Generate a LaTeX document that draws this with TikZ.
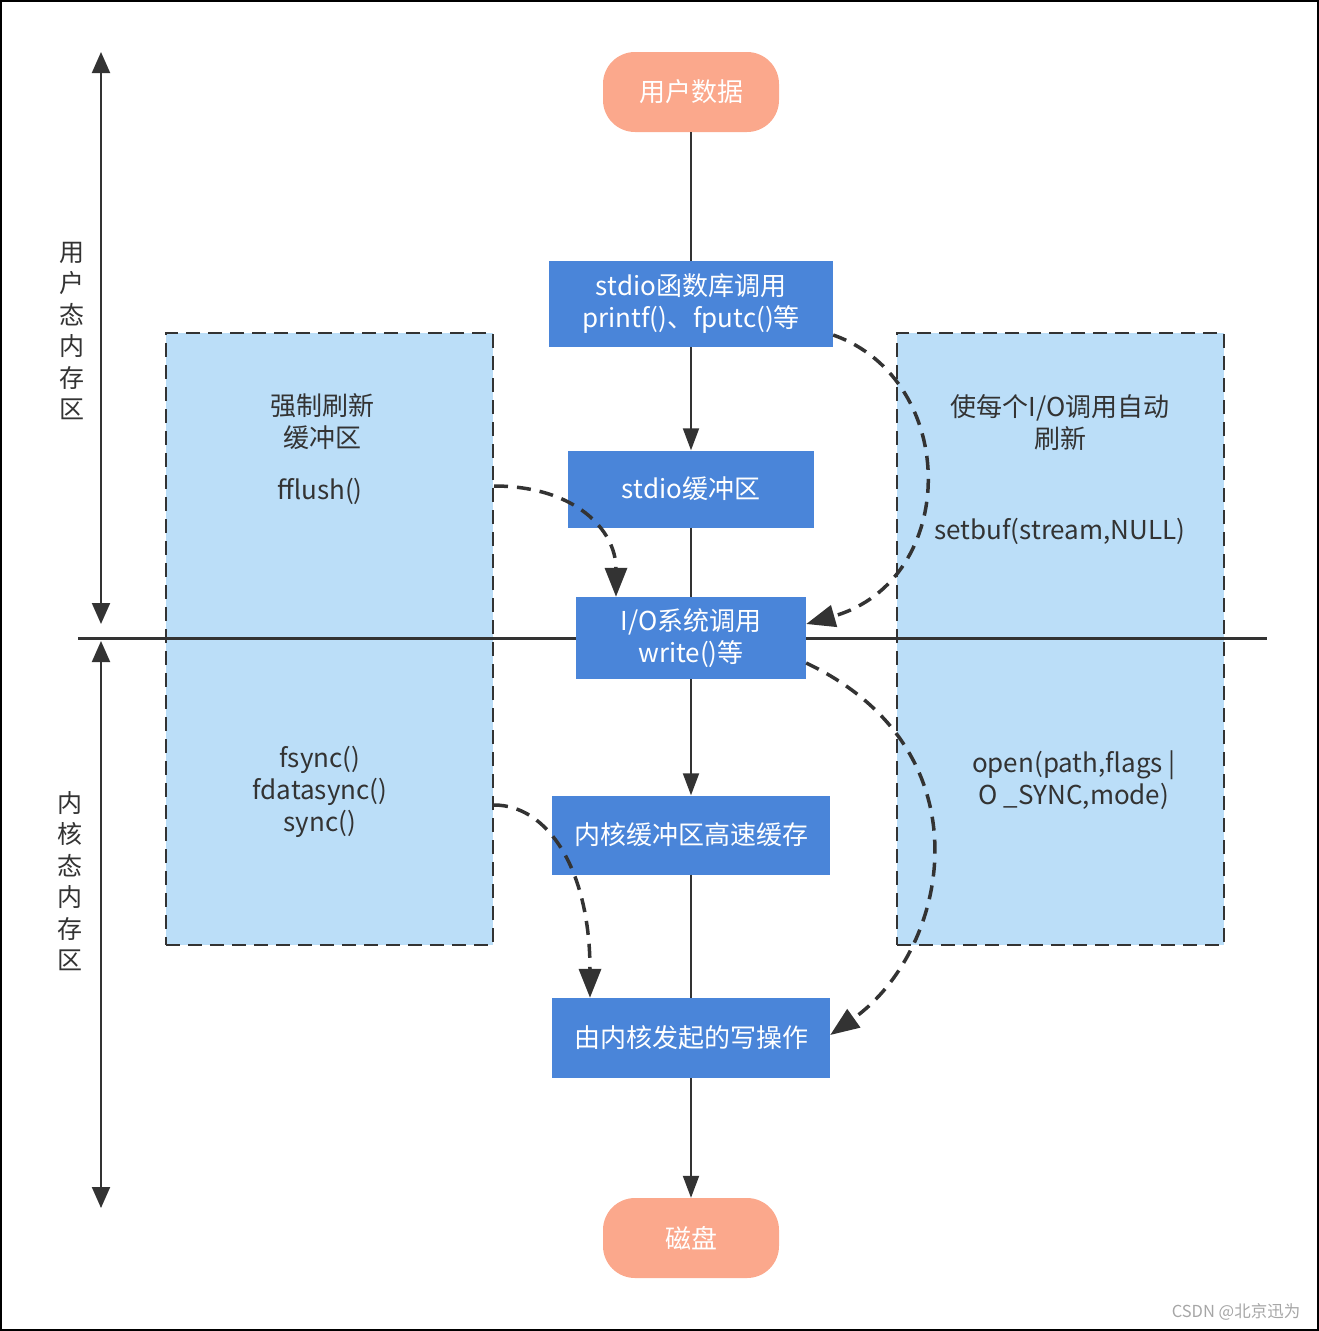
\documentclass[tikz,border=0pt]{standalone}
\usepackage{fontspec}
\setmainfont{Noto Sans CJK SC}
\usetikzlibrary{arrows.meta,shapes}

\definecolor{salmon}{HTML}{FBA88C}
\definecolor{boxblue}{HTML}{4A85D9}
\definecolor{paleblue}{HTML}{BBDEF8}
\definecolor{ink}{HTML}{333333}

\tikzset{
  term/.style={rounded corners=32pt,fill=salmon,text=white,minimum width=176pt,minimum height=80pt,inner sep=0pt},
  call/.style={fill=boxblue,text=white,align=center,inner sep=0pt},
  zone/.style={draw=ink,fill=paleblue,line width=2pt,dash pattern=on 14pt off 8pt,minimum width=327pt,minimum height=612pt,inner sep=0pt},
  note/.style={text=ink,align=center},
  flow/.style={draw=ink,line width=2pt},
  push/.style={flow,-{Triangle[length=22pt,width=16pt]}},
  hint/.style={draw=ink,line width=3.5pt,dash pattern=on 14pt off 9pt,-{Triangle[length=29pt,width=22pt]}},
  span/.style={draw=ink,line width=2pt,{Triangle[length=21pt,width=18pt]}-{Triangle[length=21pt,width=18pt]}},
}

\begin{document}
\begin{tikzpicture}[x=1pt,y=-1pt,font=\fontsize{26}{32}\selectfont]
	\useasboundingbox (0,0) rectangle (1319,1331);
	\draw[black,line width=2pt] (1,1) rectangle (1318,1330);

	% dashed zones
	\node[zone] (flushzone) at (329.5,639) {};
	\node[zone] (synczone) at (1060.5,639) {};

	\node[note] (force) at (322,422) {强制刷新\\缓冲区};
	\node[note] (fflush) at (320,491) {fflush()};
	\node[note] (fsync) at (320,792) {fsync()\\fdatasync()\\sync()};
	\node[note] (autoio) at (1060,423) {使每个I/O调用自动\\刷新};
	\node[note] (setbuf) at (1060,531) {setbuf(stream,NULL)};
	\node[note] (osync) at (1074,780) {open(path,flags |\\O \_SYNC,mode)};

	% main flow
	\node[term] (udata) at (691,92) {用户数据};
	\node[call,minimum width=284pt,minimum height=86pt] (stdcall) at (691,304) {stdio函数库调用\\printf()、fputc()等};
	\node[call,minimum width=246pt,minimum height=77pt] (stdbuf) at (691,489) {stdio缓冲区};
	\node[call,minimum width=230pt,minimum height=82pt] (sysio) at (691,638) {I/O系统调用\\write()等};
	\node[call,minimum width=278pt,minimum height=79pt] (kcache) at (691,835) {内核缓冲区高速缓存};
	\node[call,minimum width=278pt,minimum height=80pt] (kwrite) at (691,1038) {由内核发起的写操作};
	\node[term] (disk) at (691,1238) {磁盘};

	\draw[flow] (udata) -- (stdcall);
	\draw[push] (stdcall) -- (stdbuf);
	\draw[flow] (stdbuf) -- (sysio);
	\draw[push] (sysio) -- (kcache);
	\draw[flow] (kcache) -- (kwrite);
	\draw[push] (kwrite) -- (disk);

	% user / kernel split
	\coordinate (splitl) at (78,638);
	\coordinate (splitr) at (1267,638);
	\draw[ink,line width=3pt] (splitl) -- (sysio.west);
	\draw[ink,line width=3pt] (sysio.east) -- (splitr);

	\coordinate (usertop) at (101,52);
	\coordinate (userbot) at (101,624);
	\coordinate (kerntop) at (101,641);
	\coordinate (kernbot) at (101,1208);
	\draw[span] (usertop) -- (userbot);
	\draw[span] (kerntop) -- (kernbot);
	\node[note,font=\fontsize{25}{31.5}\selectfont] (userlbl) at (72,331) {用\\户\\态\\内\\存\\区};
	\node[note,font=\fontsize{25}{31.5}\selectfont] (kernlbl) at (70,881) {内\\核\\态\\内\\存\\区};

	% dashed hints
	\draw[hint] (flushzone.east |- 0,486) .. controls (575,486) and (616,530) .. (sysio.north -| 616,0);
	\draw[hint] (stdcall.east |- 0,335) .. controls (960,380) and (960,580) .. (sysio.east |- 0,624);
	\draw[hint] (sysio.east |- 0,663) .. controls (990,750) and (950,950) .. (kwrite.east |- 0,1035);
	\draw[hint] (flushzone.east |- 0,805) .. controls (548,805) and (590,870) .. (kwrite.north -| 590,0);

	\node[text=gray!70,font=\fontsize{16.5}{19}\selectfont] (mark) at (1236,1312) {CSDN @北京迅为};
\end{tikzpicture}
\end{document}
